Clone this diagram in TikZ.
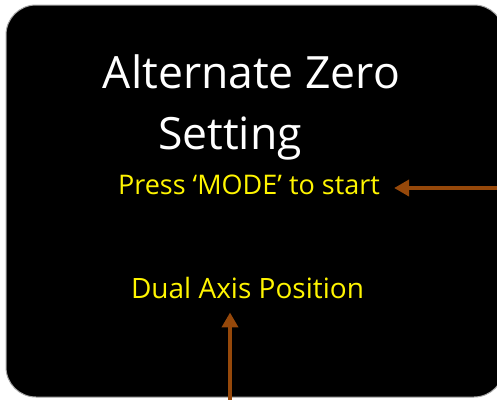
\documentclass[tikz,border=0pt]{standalone}
\usepackage{fontspec}
\setmainfont{Open Sans}
\usepackage{tikz}
\usetikzlibrary{arrows.meta}
\definecolor{arrowbrown}{RGB}{150,72,10}
\definecolor{textyellow}{RGB}{255,245,0}

\begin{document}
\begin{tikzpicture}[x=1pt,y=-1pt,
    title/.style={text=white, inner sep=0pt, anchor=base, font=\fontsize{44.5}{50}\selectfont},
    label/.style={text=textyellow, inner sep=0pt, anchor=base, font=\fontsize{27}{30}\selectfont},
    pointer/.style={arrowbrown, line width=4.5pt, -{Triangle[length=15pt,width=16pt]}}]

  \useasboundingbox (0,0) rectangle (497,399);
  \fill[white] (0,0) rectangle (497,399);

  \draw[gray!70, fill=black, line width=1pt, rounded corners=30pt]
    (6,5) rectangle (504,397);

  \node[title] (line1) at (251.5,88) {Alternate Zero};
  \node[title] (line2) at (230,149) {Setting};
  \node[label] (press) at (249,194) {Press ‘MODE’ to start};
  \node[label, font=\fontsize{28}{30}\selectfont] (dual) at (247.5,298) {Dual Axis Position};

  \coordinate (modein) at (500,188);
  \coordinate (axisin) at (230,402);

  \draw[pointer] (modein) -- ([xshift=14pt]press.east |- modein);
  \draw[pointer] (axisin) -- ([yshift=-14pt]dual.south -| axisin);

\end{tikzpicture}
\end{document}
